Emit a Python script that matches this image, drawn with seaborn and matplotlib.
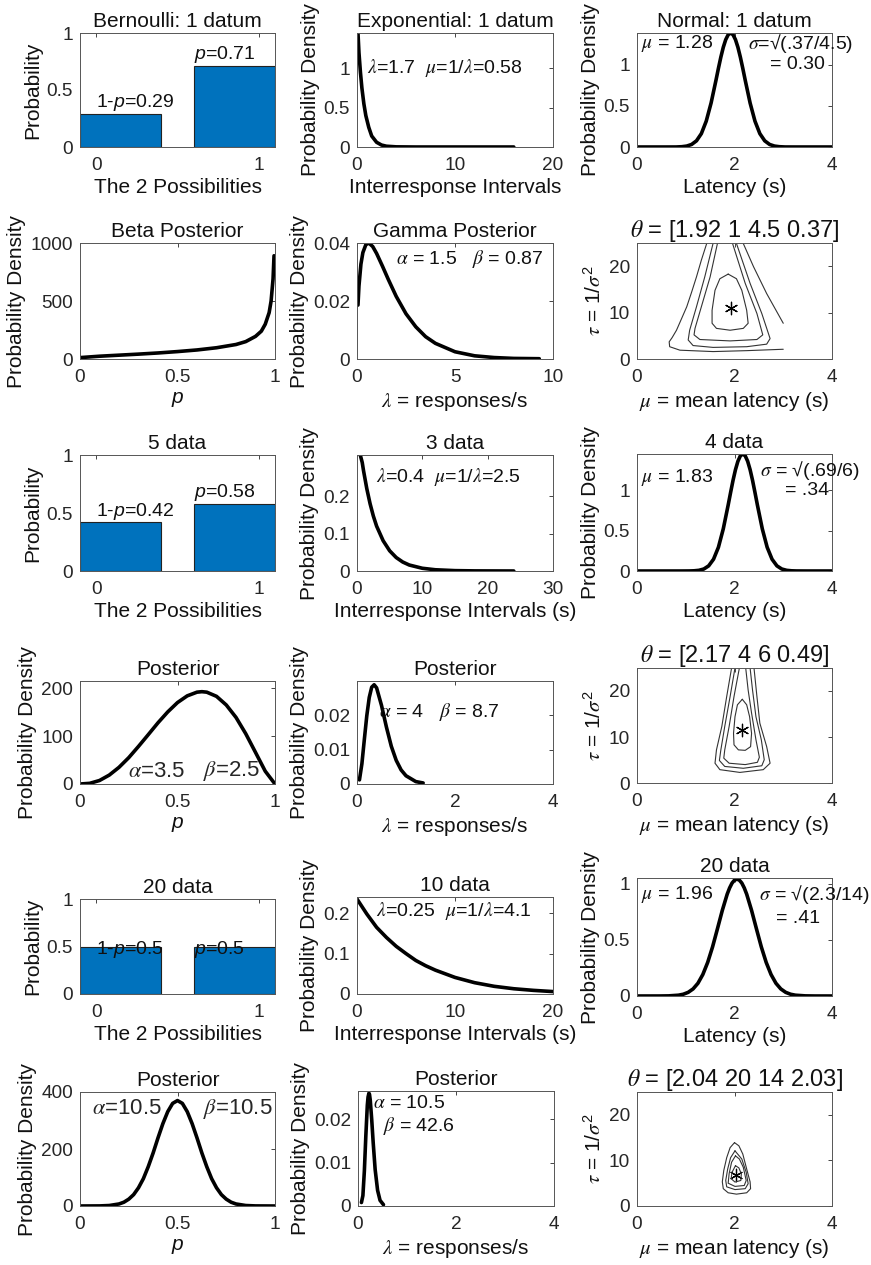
import matplotlib
matplotlib.use("Agg")
import matplotlib.pyplot as plt
import seaborn as sns
import numpy as np

sns.set_style("white")
plt.rcParams.update({
    "font.family": ["Liberation Sans", "DejaVu Sans"],
    "mathtext.fontset": "custom",
    "mathtext.it": "STIXGeneral:italic",
    "mathtext.rm": "Liberation Sans",
    "mathtext.sf": "Liberation Sans:italic",
})

# ---------------- data ----------------
bar_pos = [0.15, 0.85]
bern1_vals = [0.29, 0.71]
bern5_vals = [0.42, 0.58]
bern20_vals = [0.5, 0.5]
bern1_txt = ["1-$\\mathsf{p}$=0.29", "$\\mathsf{p}$=0.71"]
bern5_txt = ["1-$\\mathsf{p}$=0.42", "$\\mathsf{p}$=0.58"]
bern20_txt = ["1-$\\mathsf{p}$=0.5", "$\\mathsf{p}$=0.5"]

exp1_x = [0.1, 0.2, 0.35, 0.5, 0.7, 0.9, 1.2, 1.5, 2.0, 2.5, 3.0, 4.0, 6.0, 10.0, 16.0]
exp1_y = [1.45, 1.2, 0.95, 0.75, 0.55, 0.4, 0.25, 0.14, 0.06, 0.025, 0.01, 0.002, 0.0, 0.0, 0.0]
exp3_x = [0.5, 0.8, 1, 1.5, 2, 2.5, 3, 4, 5, 6, 7, 8, 10, 12, 15, 18, 24]
exp3_y = [0.31, 0.29, 0.268, 0.22, 0.18, 0.147, 0.12, 0.081, 0.054, 0.036, 0.024, 0.016,
          0.0073, 0.0033, 0.001, 0.0003, 0.0]
exp10_x = [0, 1, 2, 3, 4, 5, 6, 7, 8, 10, 12, 14, 16, 18, 20]
exp10_y = [0.235, 0.198, 0.165, 0.14, 0.118, 0.1, 0.083, 0.07, 0.059, 0.041, 0.028, 0.019,
           0.013, 0.009, 0.006]

norm1_x = [0, 0.6, 0.8, 0.92, 1.02, 1.12, 1.22, 1.32, 1.42, 1.52, 1.62, 1.67, 1.72, 1.77,
           1.82, 1.87, 1.92, 1.97, 2.02, 2.07, 2.12, 2.17, 2.22, 2.32, 2.42, 2.52, 2.62,
           2.72, 2.82, 2.92, 3.04, 3.24, 4.0]
norm1_y = [0, 0, 0.0003, 0.0036, 0.0113, 0.031, 0.0755, 0.163, 0.315, 0.537, 0.814, 0.959,
           1.096, 1.216, 1.309, 1.369, 1.39, 1.369, 1.309, 1.216, 1.096, 0.959, 0.814, 0.537,
           0.315, 0.163, 0.0755, 0.031, 0.0113, 0.0036, 0.0003, 0, 0]
norm4_x = [0, 0.9, 1.07, 1.17, 1.27, 1.37, 1.47, 1.57, 1.67, 1.77, 1.87, 1.92, 1.97, 2.02,
           2.07, 2.12, 2.17, 2.22, 2.27, 2.32, 2.37, 2.42, 2.47, 2.57, 2.67, 2.77, 2.87,
           2.97, 3.07, 3.17, 3.27, 3.47, 4.0]
norm4_y = [0, 0, 0.0006, 0.0025, 0.0083, 0.0245, 0.0637, 0.146, 0.294, 0.523, 0.817, 0.973,
           1.124, 1.256, 1.36, 1.427, 1.45, 1.427, 1.36, 1.256, 1.124, 0.973, 0.817, 0.523,
           0.294, 0.146, 0.0637, 0.0245, 0.0083, 0.0025, 0.0006, 0, 0]
norm20_x = [0, 0.45, 0.65, 0.85, 0.95, 1.05, 1.15, 1.25, 1.35, 1.45, 1.55, 1.65, 1.75, 1.85,
            1.9, 1.95, 2.0, 2.05, 2.1, 2.15, 2.2, 2.25, 2.35, 2.45, 2.55, 2.65, 2.75, 2.85,
            2.95, 3.05, 3.15, 3.25, 3.45, 3.65, 4.0]
norm20_y = [0, 0.0001, 0.0012, 0.0071, 0.0157, 0.0326, 0.0629, 0.1134, 0.191, 0.299, 0.437,
            0.598, 0.762, 0.906, 0.962, 1.005, 1.031, 1.04, 1.031, 1.005, 0.962, 0.906, 0.762,
            0.598, 0.437, 0.299, 0.191, 0.1134, 0.0629, 0.0326, 0.0157, 0.0071, 0.0012,
            0.0001, 0]

beta1_x = [0, 0.05, 0.1, 0.2, 0.3, 0.4, 0.5, 0.6, 0.7, 0.8, 0.85, 0.9, 0.93, 0.95, 0.97,
           0.98, 0.99, 0.995]
beta1_y = [12, 18, 24, 33, 42, 52, 64, 78, 97, 125, 150, 195, 240, 300, 400, 500, 690, 890]
beta5_x = [0, 0.05, 0.1, 0.15, 0.2, 0.25, 0.3, 0.35, 0.4, 0.45, 0.5, 0.55, 0.6, 0.625, 0.65,
           0.7, 0.75, 0.8, 0.85, 0.9, 0.95, 1.0]
beta5_y = [0, 1.4, 7.3, 18.6, 34.8, 55, 78.5, 103, 127.8, 150.5, 170, 184, 191.7, 192.7,
           191.7, 183, 165, 139, 105, 66, 26.7, 0]
beta20_x = [0, 0.1, 0.15, 0.2, 0.225, 0.25, 0.275, 0.3, 0.325, 0.35, 0.375, 0.4, 0.425,
            0.45, 0.475, 0.5, 0.525, 0.55, 0.575, 0.6, 0.625, 0.65, 0.675, 0.7, 0.725, 0.75,
            0.775, 0.8, 0.85, 0.9, 1.0]
beta20_y = [0, 0.3, 1.7, 7.1, 13.3, 24, 39.9, 64, 96, 138, 186, 239, 289, 331, 360, 370,
            360, 331, 289, 239, 186, 138, 96, 64, 39.9, 24, 13.3, 7.1, 1.7, 0.3, 0]

gam1_x = [0.05, 0.1, 0.2, 0.3, 0.45, 0.6, 0.8, 1.0, 1.3, 1.6, 2.0, 2.5, 3.0, 3.5, 4.0, 5.0,
          6.0, 7.0, 8.0, 9.3]
gam1_y = [0.0186, 0.0252, 0.0327, 0.0367, 0.0394, 0.0400, 0.0388, 0.0364, 0.0320, 0.0274,
          0.0216, 0.0156, 0.0111, 0.0077, 0.0054, 0.0025, 0.0011, 0.0005, 0.0002, 0.0001]
gam3_x = [0.05, 0.1, 0.15, 0.2, 0.25, 0.3, 0.35, 0.4, 0.5, 0.6, 0.7, 0.8, 0.9, 1.0, 1.2, 1.35]
gam3_y = [0.0012, 0.0059, 0.0130, 0.0199, 0.0252, 0.0282, 0.0289, 0.0280, 0.0229, 0.0166,
          0.0110, 0.0069, 0.0041, 0.0024, 0.0007, 0.0003]
gam10_x = [0.07, 0.1, 0.13, 0.16, 0.19, 0.205, 0.223, 0.235, 0.25, 0.28, 0.31, 0.35, 0.4,
           0.45, 0.52]
gam10_y = [0.0008, 0.0024, 0.0081, 0.0162, 0.0232, 0.0251, 0.026, 0.0257, 0.0244, 0.0199,
           0.0146, 0.0084, 0.0036, 0.0013, 0.0003]

# contour lines (mu, tau)
c1_a_x = [1.43, 1.32, 1.22, 1.12, 1.02, 0.91, 0.81, 0.72, 0.66, 0.67, 0.88, 1.56, 2.25, 3.0]
c1_a_y = [24.9, 21.3, 17.7, 14.4, 11.25, 8.6, 6.2, 4.6, 3.7, 2.65, 1.9, 1.6, 1.8, 2.1]
c1_ar_x = [2.18, 2.39, 2.66, 3.0]
c1_ar_y = [24.9, 19.9, 14.1, 7.7]
c1_b_x = [1.56, 1.39, 1.22, 1.08, 1.05, 1.15, 1.56, 2.25, 2.66, 2.73, 2.56, 2.32, 2.04]
c1_b_y = [24.9, 17.7, 11.25, 6.2, 4.1, 2.9, 2.5, 2.65, 3.2, 4.4, 9.8, 16.3, 24.9]
c1_c_x = [1.65, 1.50, 1.32, 1.19, 1.17, 1.29, 1.91, 2.46, 2.58, 2.46, 2.22, 1.96]
c1_c_y = [24.9, 17.7, 11.25, 6.6, 5.2, 4.2, 3.9, 4.2, 5.2, 9.8, 16.3, 24.9]
c1_d_x = [1.87, 1.70, 1.60, 1.54, 1.54, 1.63, 1.91, 2.18, 2.28, 2.25, 2.15, 2.04, 1.87]
c1_d_y = [18.3, 17.3, 14.8, 10.5, 7.7, 6.6, 6.2, 6.6, 7.7, 10.5, 14.8, 17.3, 18.3]
star1 = (1.92, 11.0)

c4_e_x = [1.94, 1.84, 1.74, 1.63, 1.60, 1.70, 2.11, 2.59, 2.73, 2.66, 2.52, 2.46, 2.40]
c4_e_y = [25.0, 18.8, 12.3, 7.2, 4.3, 2.9, 2.3, 2.9, 4.3, 7.9, 13.0, 18.8, 25.0]
c4_f_x = [2.01, 1.91, 1.80, 1.72, 1.69, 1.80, 2.18, 2.56, 2.61, 2.55, 2.44, 2.37, 2.32]
c4_f_y = [25.0, 18.8, 12.3, 7.2, 4.9, 3.6, 3.2, 3.75, 5.05, 9.4, 14.4, 20.2, 25.0]
c4_g_x = [2.10, 1.99, 1.89, 1.80, 1.78, 1.89, 2.22, 2.47, 2.51, 2.44, 2.35, 2.28, 2.23]
c4_g_y = [25.0, 18.8, 12.3, 7.2, 5.4, 4.3, 4.0, 4.5, 5.6, 9.4, 15.2, 20.2, 25.0]
c4_h_x = [2.16, 2.06, 2.01, 1.98, 1.99, 2.08, 2.22, 2.33, 2.35, 2.31, 2.25, 2.16]
c4_h_y = [18.2, 17.0, 14.4, 10.8, 8.3, 7.2, 7.1, 7.9, 10.8, 14.4, 17.0, 18.2]
star4 = (2.16, 11.5)

c20_i_x = [2.00, 1.91, 1.84, 1.78, 1.75, 1.77, 1.87, 2.04, 2.25, 2.33, 2.32, 2.25, 2.17, 2.09, 2.00]
c20_i_y = [13.9, 12.8, 10.6, 7.8, 5.3, 3.8, 2.9, 2.6, 2.9, 3.8, 5.3, 8.1, 11.4, 13.2, 13.9]
c20_j_x = [2.01, 1.92, 1.86, 1.82, 1.84, 2.01, 2.22, 2.28, 2.24, 2.15, 2.01]
c20_j_y = [12.1, 10.6, 8.1, 5.6, 4.2, 3.6, 3.8, 4.9, 7.4, 10.3, 12.1]
c20_k_x = [2.02, 1.94, 1.89, 1.87, 2.01, 2.20, 2.24, 2.18, 2.10, 2.02]
c20_k_y = [11.0, 9.6, 7.1, 5.0, 4.3, 4.5, 5.6, 8.5, 10.3, 11.0]
c20_l_x = [2.02, 1.95, 1.93, 2.01, 2.13, 2.14, 2.09, 2.02]
c20_l_y = [8.85, 7.4, 6.0, 5.25, 5.6, 7.05, 8.35, 8.85]
star20 = (2.03, 6.7)

# ---------------- layout ----------------
W, H = 871, 1265
fig = plt.figure(figsize=(W / 100, H / 100), dpi=100)
boxes = {
    (0, 0): (80, 33, 275, 147), (0, 1): (357, 33, 553, 147), (0, 2): (637, 33, 832, 147),
    (1, 0): (80, 243, 275, 359), (1, 1): (357, 243, 553, 359), (1, 2): (637, 243, 832, 359),
    (2, 0): (80, 455, 275, 571), (2, 1): (357, 455, 553, 571), (2, 2): (637, 454, 832, 571),
    (3, 0): (80, 681, 275, 784), (3, 1): (357, 681, 553, 784), (3, 2): (637, 668, 832, 783),
    (4, 0): (80, 899, 275, 994), (4, 1): (357, 897, 553, 994), (4, 2): (637, 878, 832, 996),
    (5, 0): (80, 1092, 275, 1206), (5, 1): (358, 1091, 554, 1206), (5, 2): (637, 1092, 832, 1206),
}
AX = "#262626"
TFS = 13.7   # tick labels
LFS = 15.0   # titles / axis labels


def make_ax(r, c):
    l, t, rr, b = boxes[(r, c)]
    return fig.add_axes([l / W, 1 - b / H, (rr - l) / W, (b - t) / H])


def style(ax, xlim, ylim, xt, xtl, yt, ytl, title, xlabel, ylabel, tsize=LFS):
    ax.set_xlim(*xlim)
    ax.set_ylim(*ylim)
    ax.set_xticks(xt)
    ax.set_xticklabels(xtl)
    ax.set_yticks(yt)
    ax.set_yticklabels(ytl)
    ax.tick_params(direction="in", length=3, width=0.6, top=True, right=True,
                   labelsize=TFS, colors=AX, pad=5)
    ax.tick_params(axis="x", pad=7)
    for s in ax.spines.values():
        s.set_visible(True)
        s.set_color("#555555")
        s.set_linewidth(0.7)
    ax.set_title(title, fontsize=tsize, pad=4, color="#111111")
    ax.set_xlabel(xlabel, fontsize=LFS, labelpad=3, color="#111111")
    ax.set_ylabel(ylabel, fontsize=LFS, labelpad=3, color="#111111")
    ax.set_facecolor("white")


def curve(ax, x, y, lw=2.6):
    sns.lineplot(x=x, y=y, ax=ax, color="black", linewidth=lw, sort=False, estimator=None)


def contour_line(ax, x, y):
    sns.lineplot(x=x, y=y, ax=ax, color="#333333", linewidth=0.8, sort=False, estimator=None)


def bars(ax, vals):
    sns.barplot(x=bar_pos, y=vals, ax=ax, native_scale=True, width=0.5 / 0.7,
                color="#0072BD", saturation=1, edgecolor="#222222", linewidth=0.8)


ann = dict(fontsize=14, color="#111111")

# ---- Bernoulli rows ----
for r, vals, txt, title in [(0, bern1_vals, bern1_txt, "Bernoulli: 1 datum"),
                            (2, bern5_vals, bern5_txt, "5 data"),
                            (4, bern20_vals, bern20_txt, "20 data")]:
    ax = make_ax(r, 0)
    bars(ax, vals)
    style(ax, (-0.1, 1.1), (0, 1), [0, 1], ["0", "1"], [0, 0.5, 1], ["0", "0.5", "1"],
          title, "The 2 Possibilities", "Probability")
    if r == 4:
        ax.text(0.0, vals[0] - 0.03, txt[0], ha="left", va="center", **ann)
        ax.text(0.6, vals[1] - 0.03, txt[1], ha="left", va="center", **ann)
    else:
        ax.text(0.0, vals[0] + 0.005, txt[0], ha="left", va="bottom", **ann)
        ax.text(0.6, vals[1] + 0.005, txt[1], ha="left", va="bottom", **ann)

# ---- Beta posteriors ----
ax = make_ax(1, 0)
curve(ax, beta1_x, beta1_y)
style(ax, (0, 1), (0, 1000), [0, 0.5, 1], ["0", "0.5", "1"], [0, 500, 1000],
      ["0", "500", "1000"], "Beta Posterior", "$\\mathsf{p}$", "Probability Density")

ax = make_ax(3, 0)
curve(ax, beta5_x, beta5_y)
style(ax, (0, 1), (0, 215), [0, 0.5, 1], ["0", "0.5", "1"], [0, 100, 200],
      ["0", "100", "200"], "Posterior", "$\\mathsf{p}$", "Probability Density")
ax.text(0.245, 27, "$\\alpha$=3.5", fontsize=16, ha="left", va="center")
ax.text(0.63, 27, "$\\beta$=2.5", fontsize=16, ha="left", va="center")

ax = make_ax(5, 0)
curve(ax, beta20_x, beta20_y)
style(ax, (0, 1), (0, 400), [0, 0.5, 1], ["0", "0.5", "1"], [0, 200, 400],
      ["0", "200", "400"], "Posterior", "$\\mathsf{p}$", "Probability Density")
ax.text(0.06, 341, "$\\alpha$=10.5", fontsize=16, ha="left", va="center")
ax.text(0.63, 341, "$\\beta$=10.5", fontsize=16, ha="left", va="center")

# ---- Exponential rows ----
ax = make_ax(0, 1)
curve(ax, exp1_x, exp1_y)
style(ax, (0, 20), (0, 1.45), [0, 10, 20], ["0", "10", "20"], [0, 0.5, 1],
      ["0", "0.5", "1"], "Exponential: 1 datum", "Interresponse Intervals", "Probability Density")
ax.text(1.0, 1.0, "$\\lambda$=1.7  $\\mu$=1/$\\lambda$=0.58", ha="left", va="center", **ann)

ax = make_ax(2, 1)
curve(ax, exp3_x, exp3_y)
style(ax, (0, 30), (0, 0.31), [0, 10, 20, 30], ["0", "10", "20", "30"], [0, 0.1, 0.2],
      ["0", "0.1", "0.2"], "3 data", "Interresponse Intervals (s)", "Probability Density")
ax.text(2.9, 0.25, "$\\lambda$=0.4  $\\mu$=1/$\\lambda$=2.5", ha="left", va="center", **ann)

ax = make_ax(4, 1)
curve(ax, exp10_x, exp10_y)
style(ax, (0, 20), (0, 0.24), [0, 10, 20], ["0", "10", "20"], [0, 0.1, 0.2],
      ["0", "0.1", "0.2"], "10 data", "Interresponse Intervals (s)", "Probability Density")
ax.text(1.9, 0.205, "$\\lambda$=0.25  $\\mu$=1/$\\lambda$=4.1", ha="left", va="center", **ann)

# ---- Gamma posteriors ----
ax = make_ax(1, 1)
curve(ax, gam1_x, gam1_y)
style(ax, (0, 10), (0, 0.04), [0, 5, 10], ["0", "5", "10"], [0, 0.02, 0.04],
      ["0", "0.02", "0.04"], "Gamma Posterior", "$\\lambda$ = responses/s", "Probability Density")
ax.text(2.0, 0.0345, "$\\alpha$ = 1.5   $\\beta$ = 0.87", ha="left", va="center", **ann)

ax = make_ax(3, 1)
curve(ax, gam3_x, gam3_y)
style(ax, (0, 4), (0, 0.03), [0, 2, 4], ["0", "2", "4"], [0, 0.01, 0.02],
      ["0", "0.01", "0.02"], "Posterior", "$\\lambda$ = responses/s", "Probability Density")
ax.text(0.45, 0.021, "$\\alpha$ = 4   $\\beta$ = 8.7", ha="left", va="center", **ann)

ax = make_ax(5, 1)
curve(ax, gam10_x, gam10_y)
style(ax, (0, 4), (0, 0.0265), [0, 2, 4], ["0", "2", "4"], [0, 0.01, 0.02],
      ["0", "0.01", "0.02"], "Posterior", "$\\lambda$ = responses/s", "Probability Density")
ax.text(0.31, 0.0236, "$\\alpha$ = 10.5", ha="left", va="center", **ann)
ax.text(0.51, 0.0184, "$\\beta$ = 42.6", ha="left", va="center", **ann)

# ---- Normal rows ----
for r, xs, ys, top, title, t1, t2, t3, p1, p2, p3 in [
    (0, norm1_x, norm1_y, 1.39, "Normal: 1 datum", "$\\mu$ = 1.28",
     "$\\sigma$=√(.37/4.5)", "= 0.30", (0.09, 1.26), (2.28, 1.26), (2.73, 1.0)),
    (2, norm4_x, norm4_y, 1.45, "4 data", "$\\mu$ = 1.83",
     "$\\sigma$ = √(.69/6)", "= .34", (0.09, 1.16), (2.52, 1.24), (3.04, 1.0)),
    (4, norm20_x, norm20_y, 1.05, "20 data", "$\\mu$ = 1.96",
     "$\\sigma$ = √(2.3/14)", "= .41", (0.09, 0.9), (2.5, 0.9), (2.85, 0.69)),
]:
    ax = make_ax(r, 2)
    curve(ax, xs, ys)
    style(ax, (0, 4), (0, top), [0, 2, 4], ["0", "2", "4"], [0, 0.5, 1], ["0", "0.5", "1"],
          title, "Latency (s)", "Probability Density")
    for t, p in [(t1, p1), (t2, p2), (t3, p3)]:
        ax.text(p[0], p[1], t, ha="left", va="center", clip_on=False, **ann)

# ---- Contours ----
for r, lines, star, title in [
    (1, [(c1_a_x, c1_a_y), (c1_ar_x, c1_ar_y), (c1_b_x, c1_b_y), (c1_c_x, c1_c_y),
         (c1_d_x, c1_d_y)], star1, "$\\theta$ = [1.92 1 4.5 0.37]"),
    (3, [(c4_e_x, c4_e_y), (c4_f_x, c4_f_y), (c4_g_x, c4_g_y), (c4_h_x, c4_h_y)], star4,
     "$\\theta$ = [2.17 4 6 0.49]"),
    (5, [(c20_i_x, c20_i_y), (c20_j_x, c20_j_y), (c20_k_x, c20_k_y), (c20_l_x, c20_l_y)],
     star20, "$\\theta$ = [2.04 20 14 2.03]"),
]:
    ax = make_ax(r, 2)
    for lx, ly in lines:
        contour_line(ax, lx, ly)
    sns.scatterplot(x=[star[0]], y=[star[1]], ax=ax, marker=(6, 2, 0), s=80,
                    color="black", linewidth=0.9, edgecolor="black")
    style(ax, (0, 4), (0, 25), [0, 2, 4], ["0", "2", "4"], [0, 10, 20], ["0", "10", "20"],
          title, "$\\mu$ = mean latency (s)", "$\\tau$ = 1/$\\sigma^2$", tsize=17)

fig.savefig("out.png", dpi=100, facecolor="white")
